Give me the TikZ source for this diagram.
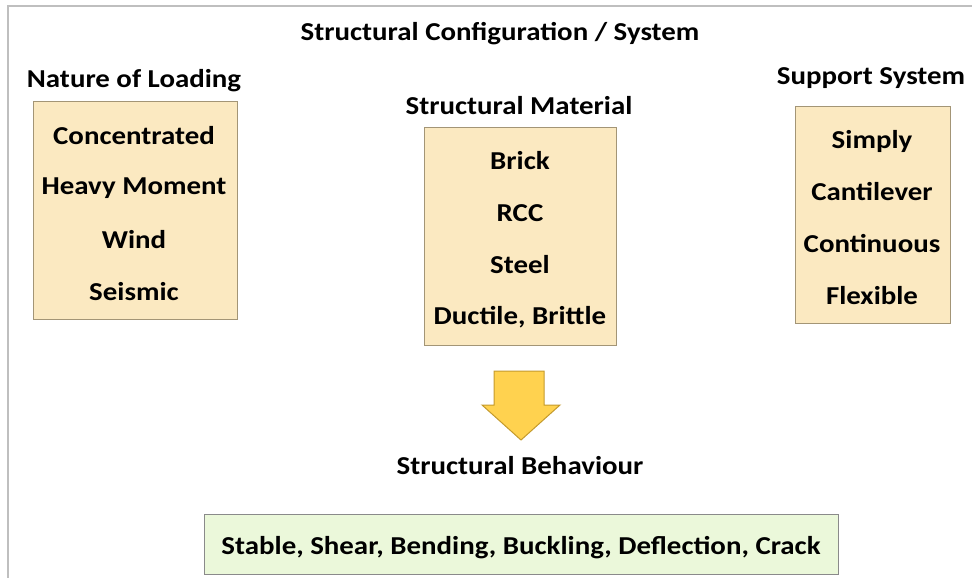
\documentclass[tikz,border=0pt]{standalone}
\usepackage{fontspec}
\setmainfont{Carlito}[FakeStretch=1.12]
\definecolor{tanfill}{HTML}{FBE9C1}
\definecolor{tanline}{HTML}{A39576}
\definecolor{greenfill}{HTML}{EBF8DA}
\definecolor{greenline}{HTML}{8A8A8A}
\definecolor{arrowfill}{HTML}{FFD24F}
\definecolor{arrowline}{HTML}{C49A2C}
\definecolor{framegray}{HTML}{BFBFBF}
\begin{document}
\begin{tikzpicture}[x=1pt,y=-1pt,
  txt/.style={font=\fontsize{25.8}{28}\selectfont\bfseries, inner sep=0pt, anchor=center},
  tanbox/.style={draw=tanline, fill=tanfill, line width=1pt},
  greenbox/.style={draw=greenline, fill=greenfill, line width=1pt}]
\useasboundingbox (0,0) rectangle (972,578);
\draw[framegray, line width=1.5pt] (8,578) -- (8,6) -- (972,6);
\node[txt] (title) at (500,34) {Structural Configuration / System};
% left
\node[txt] (loadlbl) at (134,81) {Nature of Loading};
\node[tanbox, minimum width=204pt, minimum height=218pt, anchor=north west] (loadbox) at (33,101) {};
\node[txt] (l1) at (134,136) {Concentrated};
\node[txt] (l2) at (134,188) {Heavy Moment};
\node[txt] (l3) at (134,240) {Wind};
\node[txt] (l4) at (134,292) {Seismic};
% middle
\node[txt] (matlbl) at (519,106) {Structural Material};
\node[tanbox, minimum width=192pt, minimum height=218pt, anchor=north west] (matbox) at (424,127) {};
\node[txt] (m1) at (520,161) {Brick};
\node[txt] (m2) at (520,213) {RCC};
\node[txt] (m3) at (520,265) {Steel};
\node[txt] (m4) at (520,317) {Ductile, Brittle};
% right
\node[txt] (suplbl) at (871,78) {Support System};
\node[tanbox, minimum width=155pt, minimum height=217pt, anchor=north west] (supbox) at (795,106) {};
\node[txt] (s1) at (872,141) {Simply};
\node[txt] (s2) at (872,192) {Cantilever};
\node[txt] (s3) at (872,244) {Continuous};
\node[txt] (s4) at (872,296) {Flexible};
% arrow
\draw[draw=arrowline, fill=arrowfill, line width=1pt]
  (494,371) -- (544,371) -- (544,405) -- (560,405) -- (521,440) -- (482,405) -- (494,405) -- cycle;
\node[txt] (behlbl) at (520,466) {Structural Behaviour};
\node[greenbox, minimum width=634pt, minimum height=60pt, anchor=north west] (behbox) at (204,514) {};
\node[txt] (beh) at (521,548) {Stable, Shear, Bending, Buckling, Deflection, Crack};
\end{tikzpicture}
\end{document}
